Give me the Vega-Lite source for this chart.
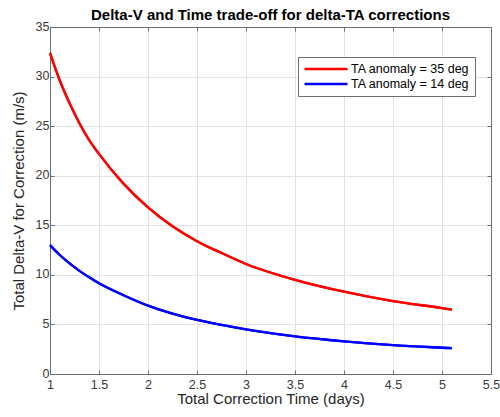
{
  "$schema": "https://vega.github.io/schema/vega-lite/v6.json",
  "width": 441,
  "height": 347,
  "autosize": {"type": "none"},
  "padding": {"left": 50, "top": 27, "right": 9, "bottom": 43},
  "background": "white",
  "title": {
    "text": "Delta-V and Time trade-off for delta-TA corrections",
    "font": "Liberation Sans",
    "fontSize": 15,
    "fontWeight": "bold",
    "color": "#000000",
    "offset": -3,
    "anchor": "middle"
  },
  "config": {
    "view": {"stroke": "#6e6e6e", "strokeWidth": 1},
    "axis": {
      "labelFont": "Liberation Sans",
      "titleFont": "Liberation Sans",
      "labelFontSize": 12.5,
      "titleFontSize": 15,
      "titleFontWeight": "normal",
      "labelColor": "#3a3a3a",
      "titleColor": "#262626",
      "domainColor": "#6e6e6e",
      "tickColor": "#6e6e6e",
      "tickSize": -4,
      "labelFlush": false,
      "gridColor": "#e3e3e3",
      "gridWidth": 1
    }
  },
  "datasets": {
    "curves": [
      {"t": 1.0, "dv": 32.4, "series": "TA anomaly = 35 deg"},
      {"t": 1.1, "dv": 29.6, "series": "TA anomaly = 35 deg"},
      {"t": 1.2, "dv": 27.3, "series": "TA anomaly = 35 deg"},
      {"t": 1.3, "dv": 25.3, "series": "TA anomaly = 35 deg"},
      {"t": 1.4, "dv": 23.6, "series": "TA anomaly = 35 deg"},
      {"t": 1.5, "dv": 22.2, "series": "TA anomaly = 35 deg"},
      {"t": 1.75, "dv": 19.2, "series": "TA anomaly = 35 deg"},
      {"t": 2.0, "dv": 16.8, "series": "TA anomaly = 35 deg"},
      {"t": 2.25, "dv": 14.9, "series": "TA anomaly = 35 deg"},
      {"t": 2.5, "dv": 13.4, "series": "TA anomaly = 35 deg"},
      {"t": 2.75, "dv": 12.2, "series": "TA anomaly = 35 deg"},
      {"t": 3.0, "dv": 11.1, "series": "TA anomaly = 35 deg"},
      {"t": 3.5, "dv": 9.5, "series": "TA anomaly = 35 deg"},
      {"t": 4.0, "dv": 8.3, "series": "TA anomaly = 35 deg"},
      {"t": 4.5, "dv": 7.35, "series": "TA anomaly = 35 deg"},
      {"t": 5.0, "dv": 6.65, "series": "TA anomaly = 35 deg"},
      {"t": 5.1, "dv": 6.5, "series": "TA anomaly = 35 deg"},
      {"t": 1.0, "dv": 13.0, "series": "TA anomaly = 14 deg"},
      {"t": 1.1, "dv": 12.0, "series": "TA anomaly = 14 deg"},
      {"t": 1.2, "dv": 11.15, "series": "TA anomaly = 14 deg"},
      {"t": 1.3, "dv": 10.4, "series": "TA anomaly = 14 deg"},
      {"t": 1.4, "dv": 9.75, "series": "TA anomaly = 14 deg"},
      {"t": 1.5, "dv": 9.15, "series": "TA anomaly = 14 deg"},
      {"t": 1.75, "dv": 7.95, "series": "TA anomaly = 14 deg"},
      {"t": 2.0, "dv": 6.9, "series": "TA anomaly = 14 deg"},
      {"t": 2.25, "dv": 6.1, "series": "TA anomaly = 14 deg"},
      {"t": 2.5, "dv": 5.45, "series": "TA anomaly = 14 deg"},
      {"t": 2.75, "dv": 4.95, "series": "TA anomaly = 14 deg"},
      {"t": 3.0, "dv": 4.5, "series": "TA anomaly = 14 deg"},
      {"t": 3.5, "dv": 3.8, "series": "TA anomaly = 14 deg"},
      {"t": 4.0, "dv": 3.3, "series": "TA anomaly = 14 deg"},
      {"t": 4.5, "dv": 2.92, "series": "TA anomaly = 14 deg"},
      {"t": 5.0, "dv": 2.65, "series": "TA anomaly = 14 deg"},
      {"t": 5.1, "dv": 2.6, "series": "TA anomaly = 14 deg"}
    ]
  },
  "data": {"name": "curves"},
  "resolve": {"axis": {"x": "independent", "y": "independent"}},
  "layer": [
    {
      "mark": {"type": "line", "strokeWidth": 2.3, "interpolate": "monotone"},
      "encoding": {
        "x": {
          "field": "t", "type": "quantitative",
          "scale": {"domain": [1, 5.5], "nice": false, "zero": false},
          "axis": {"orient": "bottom", "values": [1, 1.5, 2, 2.5, 3, 3.5, 4, 4.5, 5, 5.5], "format": "~g",
                   "title": "Total Correction Time (days)", "titlePadding": 1, "labelPadding": 8}
        },
        "y": {
          "field": "dv", "type": "quantitative",
          "scale": {"domain": [0, 35], "nice": false},
          "axis": {"orient": "left", "values": [0, 5, 10, 15, 20, 25, 30, 35],
                   "title": "Total Delta-V for Correction (m/s)", "titlePadding": 9, "labelPadding": 5, "labelOffset": -1}
        },
        "color": {
          "field": "series", "type": "nominal",
          "sort": ["TA anomaly = 35 deg", "TA anomaly = 14 deg"],
          "scale": {"domain": ["TA anomaly = 35 deg", "TA anomaly = 14 deg"], "range": ["#ff0000", "#0000ff"]},
          "legend": {
            "title": null,
            "orient": "none",
            "legendX": 248,
            "legendY": 30,
            "symbolType": "stroke",
            "symbolSize": 1850,
            "symbolStrokeWidth": 2.3,
            "clipHeight": 14,
            "labelFont": "Liberation Sans",
            "labelFontSize": 12.5,
            "labelColor": "#000000",
            "labelOffset": 2,
            "rowPadding": 1,
            "padding": 5,
            "fillColor": "#ffffff",
            "strokeColor": "#6e6e6e"
          }
        }
      }
    },
    {
      "mark": {"type": "line", "strokeWidth": 2.3, "interpolate": "monotone"},
      "encoding": {
        "x": {
          "field": "t", "type": "quantitative",
          "axis": {"orient": "top", "values": [1, 1.5, 2, 2.5, 3, 3.5, 4, 4.5, 5, 5.5], "labels": false, "title": null, "grid": false}
        },
        "y": {
          "field": "dv", "type": "quantitative",
          "axis": {"orient": "right", "values": [0, 5, 10, 15, 20, 25, 30, 35], "labels": false, "title": null, "grid": false}
        },
        "color": {"field": "series", "type": "nominal"}
      }
    }
  ]
}
